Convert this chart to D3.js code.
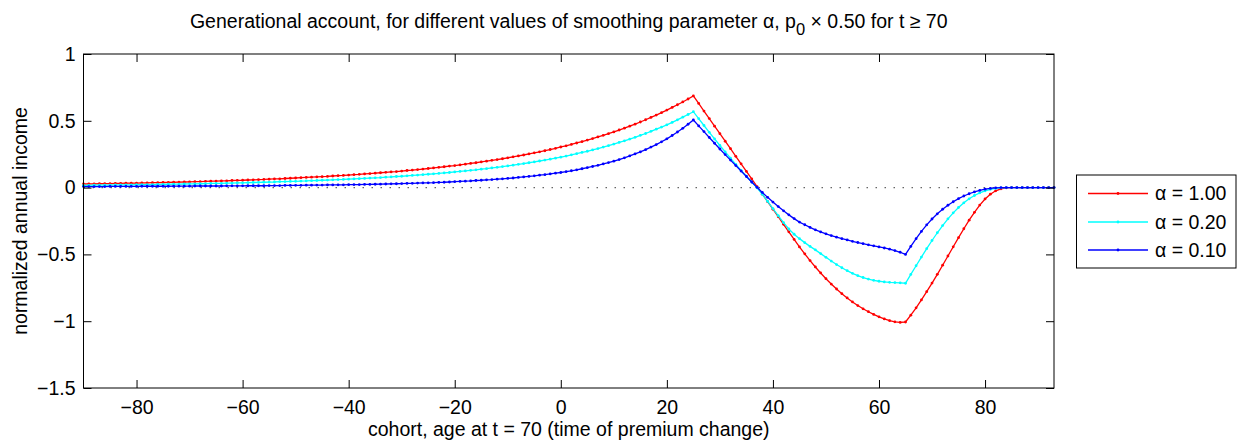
<!DOCTYPE html>
<html>
<head>
<meta charset="utf-8">
<script src="https://cdn.jsdelivr.net/npm/d3@7"></script>
<style>
  body { margin: 0; background: #fff; }
  text { font-family: "Liberation Sans", Arial, Helvetica, sans-serif; fill: #000; }
</style>
</head>
<body>
<script>
//cohort values on the x axis, one point per year of age
var cohorts = d3.range(-90, 94);

//alpha = 1.00 (red)
var redValues = [
    0.027,0.028,0.028,0.029,0.030,0.030,0.031,0.032,0.033,0.033, //-90..-81
    0.034,0.035,0.036,0.037,0.037,0.038,0.039,0.040,0.041,0.042, //-80..-71
    0.043,0.044,0.045,0.047,0.048,0.049,0.050,0.051,0.053,0.054, //-70..-61
    0.055,0.057,0.058,0.060,0.061,0.063,0.065,0.066,0.068,0.070, //-60..-51
    0.072,0.074,0.076,0.078,0.080,0.082,0.084,0.087,0.089,0.091, //-50..-41
    0.094,0.097,0.099,0.102,0.105,0.108,0.111,0.114,0.117,0.120, //-40..-31
    0.124,0.128,0.131,0.135,0.139,0.143,0.147,0.152,0.156,0.161, //-30..-21
    0.165,0.170,0.175,0.181,0.186,0.192,0.198,0.204,0.210,0.216, //-20..-11
    0.223,0.230,0.237,0.244,0.252,0.260,0.268,0.276,0.285,0.294, //-10..-1
    0.304,0.313,0.323,0.334,0.344,0.356,0.367,0.379,0.391,0.404, //0..9
    0.417,0.431,0.445,0.460,0.475,0.491,0.508,0.525,0.543,0.561, //10..19
    0.580,0.600,0.620,0.641,0.663,0.686,0.630,0.573,0.517,0.460, //20..29
    0.404,0.347,0.291,0.234,0.178,0.121,0.065,0.008,-0.049,-0.105, //30..39
    -0.162,-0.218,-0.275,-0.331,-0.388,-0.444,-0.496,-0.546,-0.594,-0.639, //40..49
    -0.682,-0.722,-0.759,-0.794,-0.826,-0.856,-0.883,-0.907,-0.929,-0.949, //50..59
    -0.967,-0.983,-0.996,-1.005,-1.009,-1.006,-0.955,-0.900,-0.841,-0.779, //60..69
    -0.715,-0.649,-0.581,-0.512,-0.443,-0.375,-0.308,-0.244,-0.185,-0.131, //70..79
    -0.085,-0.049,-0.024,-0.009,-0.002,0,0,0,0,0, //80..89
    0,0,0,0 //90..93
];

//alpha = 0.20 (cyan)
var cyanValues = [
    0.017,0.017,0.018,0.018,0.019,0.019,0.020,0.020,0.021,0.021,
    0.022,0.022,0.023,0.023,0.024,0.024,0.025,0.026,0.026,0.027,
    0.028,0.028,0.029,0.030,0.031,0.031,0.032,0.033,0.034,0.035,
    0.036,0.037,0.038,0.039,0.040,0.041,0.042,0.044,0.045,0.046,
    0.047,0.049,0.050,0.052,0.053,0.055,0.056,0.058,0.060,0.061,
    0.063,0.065,0.067,0.069,0.071,0.073,0.075,0.078,0.080,0.083,
    0.085,0.088,0.091,0.094,0.097,0.100,0.103,0.106,0.110,0.113,
    0.117,0.121,0.125,0.129,0.133,0.138,0.142,0.147,0.152,0.157,
    0.162,0.168,0.174,0.180,0.186,0.192,0.199,0.206,0.213,0.220,
    0.228,0.236,0.245,0.254,0.263,0.272,0.282,0.292,0.303,0.314,
    0.326,0.338,0.350,0.363,0.376,0.391,0.405,0.421,0.437,0.453,
    0.470,0.488,0.507,0.527,0.547,0.568,0.516,0.465,0.414,0.364,
    0.315,0.267,0.220,0.174,0.129,0.085,0.042,-0.001,-0.050,-0.103,
    -0.157,-0.210,-0.262,-0.310,-0.349,-0.382,-0.412,-0.440,-0.466,-0.494,
    -0.522,-0.550,-0.576,-0.600,-0.622,-0.642,-0.659,-0.673,-0.685,-0.694,
    -0.701,-0.706,-0.709,-0.711,-0.713,-0.716,-0.650,-0.585,-0.520,-0.457,
    -0.396,-0.338,-0.284,-0.234,-0.189,-0.149,-0.114,-0.084,-0.059,-0.039,
    -0.024,-0.013,-0.006,-0.002,0,0,0,0,0,0,
    0,0,0,0
];

//alpha = 0.10 (blue)
var blueValues = [
    0.008,0.008,0.008,0.008,0.008,0.009,0.009,0.009,0.009,0.009,
    0.009,0.010,0.010,0.010,0.010,0.010,0.010,0.011,0.011,0.011,
    0.011,0.012,0.012,0.012,0.012,0.012,0.012,0.013,0.013,0.013,
    0.013,0.014,0.014,0.014,0.014,0.015,0.015,0.015,0.016,0.016,
    0.017,0.017,0.018,0.018,0.019,0.019,0.020,0.020,0.021,0.021,
    0.022,0.023,0.023,0.024,0.024,0.025,0.026,0.027,0.028,0.029,
    0.030,0.031,0.032,0.034,0.035,0.036,0.037,0.039,0.040,0.042,
    0.044,0.046,0.048,0.050,0.053,0.055,0.058,0.060,0.063,0.066,
    0.069,0.072,0.076,0.080,0.084,0.088,0.093,0.097,0.102,0.108,
    0.113,0.119,0.126,0.133,0.141,0.149,0.158,0.167,0.177,0.187,
    0.198,0.210,0.223,0.237,0.252,0.267,0.284,0.303,0.322,0.343,
    0.365,0.390,0.416,0.444,0.474,0.506,0.462,0.419,0.375,0.332,
    0.289,0.247,0.206,0.165,0.124,0.083,0.042,0.002,-0.036,-0.073,
    -0.108,-0.142,-0.174,-0.204,-0.232,-0.258,-0.278,-0.298,-0.316,-0.332,
    -0.346,-0.359,-0.371,-0.382,-0.392,-0.402,-0.411,-0.420,-0.428,-0.436,
    -0.444,-0.452,-0.461,-0.471,-0.484,-0.500,-0.440,-0.382,-0.328,-0.279,
    -0.235,-0.196,-0.162,-0.132,-0.106,-0.083,-0.063,-0.046,-0.032,-0.021,
    -0.012,-0.006,-0.002,0,0,0,0,0,0,0,
    0,0,0,0
];

//legend labels and colours, in plotting order
var seriesLabels = ["\u03b1 = 1.00", "\u03b1 = 0.20", "\u03b1 = 0.10"];
var seriesColors = ["#ff0000", "#00ffff", "#0000ff"];

//tick values
var xTicks = [-80, -60, -40, -20, 0, 20, 40, 60, 80];
var yTicks = [1, 0.5, 0, -0.5, -1, -1.5];

window.onload = function(){

    //SVG dimension variables
    var w = 1239, h = 440;
    var left = 83.5, right = 1054, top = 54, bottom = 388;
    var fontSize = 19.5;

    var svg = d3.select("body")
        .append("svg")
        .attr("width", w)
        .attr("height", h)
        .style("display", "block")
        .style("background", "#fff");

    //scales
    var x = d3.scaleLinear()
        .domain([-90, 93])
        .range([left, right]);

    var y = d3.scaleLinear()
        .domain([-1.5, 1])
        .range([bottom, top]);

    //put the three series together for drawing
    var series = [redValues, cyanValues, blueValues].map(function(vals, i){
        return {
            color: seriesColors[i],
            label: seriesLabels[i],
            points: cohorts.map(function(c, j){ return {x: c, y: vals[j]}; })
        };
    });

    //dotted zero line
    svg.append("line")
        .attr("x1", x(-90))
        .attr("x2", x(93))
        .attr("y1", y(0))
        .attr("y2", y(0))
        .attr("stroke", "#666")
        .attr("stroke-width", 1.2)
        .attr("stroke-dasharray", "1.5,7.5");

    //line generator
    var line = d3.line()
        .x(function(d){ return x(d.x); })
        .y(function(d){ return y(d.y); });

    var groups = svg.selectAll(".series")
        .data(series)
        .enter()
        .append("g")
        .attr("class", "series");

    groups.append("path")
        .attr("d", function(d){ return line(d.points); })
        .attr("fill", "none")
        .attr("stroke", function(d){ return d.color; })
        .attr("stroke-width", 1.3);

    //point markers
    groups.selectAll(".dot")
        .data(function(d){ return d.points.map(function(p){ return {p: p, color: d.color}; }); })
        .enter()
        .append("circle")
        .attr("class", "dot")
        .attr("cx", function(d){ return x(d.p.x); })
        .attr("cy", function(d){ return y(d.p.y); })
        .attr("r", 1.4)
        .attr("fill", function(d){ return d.color; });

    //axes box with ticks on all four sides
    var tickLen = 8;
    var minusFormat = function(d){ return d < 0 ? "\u2212" + Math.abs(d) : d; };
    var xAxisBottom = d3.axisBottom(x).tickValues(xTicks).tickSizeInner(-tickLen).tickSizeOuter(0)
        .tickPadding(12)
        .tickFormat(minusFormat);
    var xAxisTop = d3.axisTop(x).tickValues(xTicks).tickSizeInner(-tickLen).tickSizeOuter(0).tickFormat("");
    var yAxisLeft = d3.axisLeft(y).tickValues(yTicks).tickSizeInner(-tickLen).tickSizeOuter(0)
        .tickPadding(8)
        .tickFormat(minusFormat);
    var yAxisRight = d3.axisRight(y).tickValues(yTicks).tickSizeInner(-tickLen).tickSizeOuter(0).tickFormat("");

    svg.append("g").attr("transform", "translate(0," + bottom + ")").call(xAxisBottom);
    svg.append("g").attr("transform", "translate(0," + top + ")").call(xAxisTop);
    svg.append("g").attr("transform", "translate(" + left + ",0)").call(yAxisLeft);
    svg.append("g").attr("transform", "translate(" + right + ",0)").call(yAxisRight);

    svg.selectAll(".domain").remove();
    svg.selectAll(".tick line").attr("stroke", "#000").attr("stroke-width", 1);
    svg.selectAll(".tick text")
        .style("font-family", "'Liberation Sans', Arial, sans-serif")
        .style("font-size", fontSize + "px")
        .attr("fill", "#000");

    svg.append("rect")
        .attr("x", left)
        .attr("y", top)
        .attr("width", right - left)
        .attr("height", bottom - top)
        .attr("fill", "none")
        .attr("stroke", "#000")
        .attr("stroke-width", 1);

    //title with subscript
    var title = svg.append("text")
        .attr("x", (left + right) / 2)
        .attr("y", 28)
        .attr("text-anchor", "middle")
        .style("font-size", fontSize + "px");
    title.append("tspan").text("Generational account, for different values of smoothing parameter \u03b1, p");
    title.append("tspan").attr("dy", 7).style("font-size", (fontSize - 3) + "px").text("0");
    title.append("tspan").attr("dy", -7).text(" \u00d7 0.50 for t \u2265 70");

    //axis labels
    svg.append("text")
        .attr("x", (left + right) / 2)
        .attr("y", 436)
        .attr("text-anchor", "middle")
        .style("font-size", fontSize + "px")
        .text("cohort, age at t = 70 (time of premium change)");

    svg.append("text")
        .attr("transform", "translate(27," + (top + bottom) / 2 + ") rotate(-90)")
        .attr("text-anchor", "middle")
        .style("font-size", fontSize + "px")
        .text("normalized annual income");

    //legend
    var legend = svg.append("g").attr("class", "legend");
    legend.append("rect")
        .attr("x", 1076.5)
        .attr("y", 175)
        .attr("width", 159.5)
        .attr("height", 93)
        .attr("fill", "#fff")
        .attr("stroke", "#000")
        .attr("stroke-width", 1);

    var rows = legend.selectAll(".row")
        .data(series)
        .enter()
        .append("g")
        .attr("class", "row")
        .attr("transform", function(d, i){ return "translate(0," + [193.5, 222, 250][i] + ")"; });

    rows.append("line")
        .attr("x1", 1088)
        .attr("x2", 1148)
        .attr("stroke", function(d){ return d.color; })
        .attr("stroke-width", 1.3);

    rows.append("circle")
        .attr("cx", 1118)
        .attr("r", 1.4)
        .attr("fill", function(d){ return d.color; });

    rows.append("text")
        .attr("x", 1155)
        .attr("dy", "0.35em")
        .style("font-size", fontSize + "px")
        .text(function(d){ return d.label; });
};
</script>
</body>
</html>
